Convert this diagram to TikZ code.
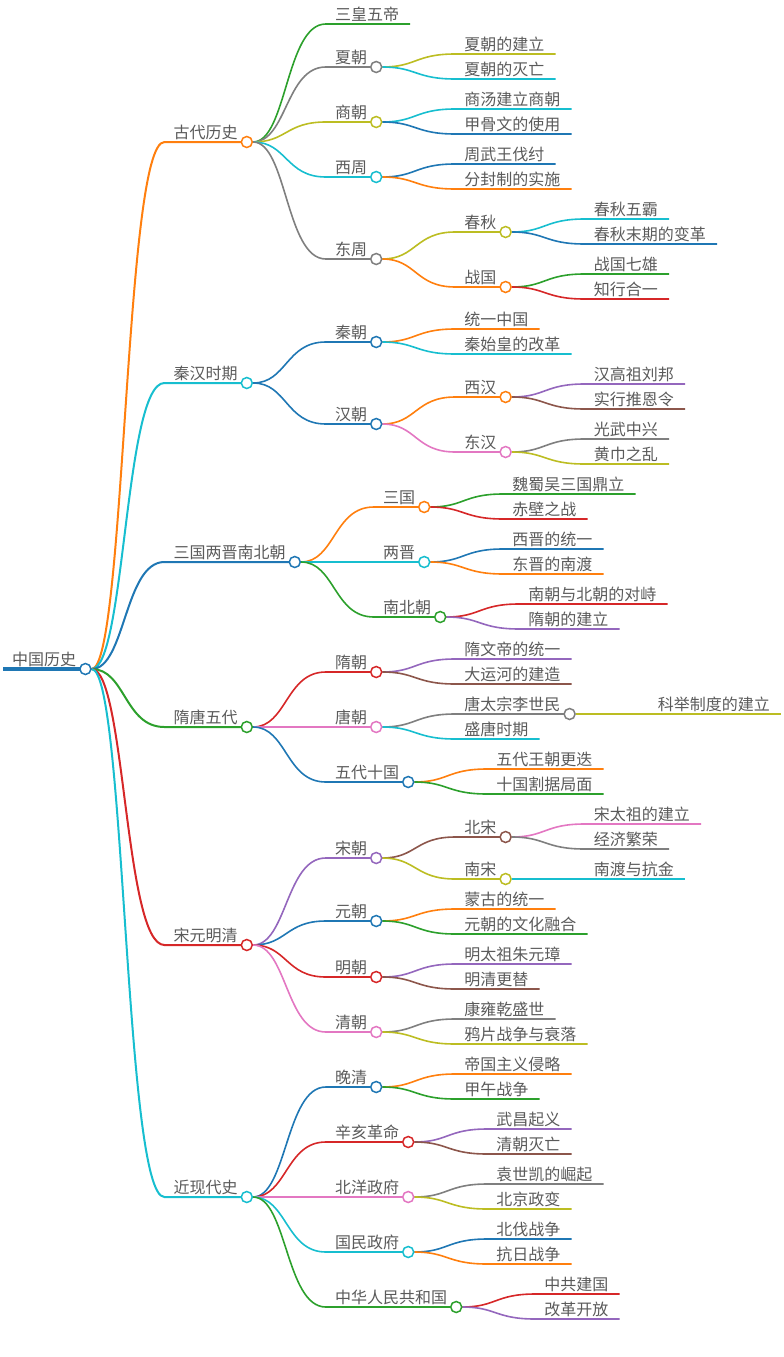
\documentclass[tikz,border=0pt]{standalone}
\usepackage{fontspec}
\setmainfont{Noto Sans CJK SC}
\usetikzlibrary{calc, backgrounds}
\definecolor{mblue}{HTML}{1F77B4}
\definecolor{morange}{HTML}{FF7F0E}
\definecolor{mgreen}{HTML}{2CA02C}
\definecolor{mred}{HTML}{D62728}
\definecolor{mpurple}{HTML}{9467BD}
\definecolor{mbrown}{HTML}{8C564B}
\definecolor{mpink}{HTML}{E377C2}
\definecolor{mgray}{HTML}{7F7F7F}
\definecolor{molive}{HTML}{BCBD22}
\definecolor{mcyan}{HTML}{17BECF}
\definecolor{txt}{HTML}{5A5A5A}
\tikzset{topic/.style={inner sep=0pt, text=txt, font=\fontsize{16}{18}\selectfont},
	knob/.style={circle, fill=white, line width=1.5pt, minimum size=11pt, inner sep=0pt}}
% width, name, parent, y, colour, text
\newcommand{\mmbranch}[6][1.6]{%
	\path (#3-c.center) ++(79,0) coordinate (#2-x);
	\coordinate (#2-s) at (#2-x |- 0,#4);
	\node[topic, anchor=base west] (#2) at ($(#2-s)+(9,-4)$) {#6};
	\begin{pgfonlayer}{background}
		\draw[#5, line width=#1] (#3-c) .. controls +(40,0) and +(-40,0) .. (#2-s) -- (#2.base east |- #2-s) -- ++(9,0);
	\end{pgfonlayer}
	\path (#2.base east |- #2-s) ++(9,0) node[knob, draw=#5] (#2-c) {};}
\newcommand{\mmleaf}[6][1.6]{%
	\path (#3-c.center) ++(79,0) coordinate (#2-x);
	\coordinate (#2-s) at (#2-x |- 0,#4);
	\node[topic, anchor=base west] (#2) at ($(#2-s)+(9,-4)$) {#6};
	\begin{pgfonlayer}{background}
		\draw[#5, line width=#1] (#3-c) .. controls +(40,0) and +(-40,0) .. (#2-s) -- (#2.base east |- #2-s) -- ++(11,0);
	\end{pgfonlayer}}

\begin{document}
\begin{tikzpicture}[x=1pt, y=-1pt]
	\useasboundingbox (0,0) rectangle (784,1357);
	
	\coordinate (zg-s) at (3,669);
	\node[topic, anchor=base west] (zg) at ($(zg-s)+(9,-4)$) {中国历史};
	\draw[mblue, line width=4] (zg-s) -- (zg.base east |- zg-s) -- ++(9,0);
	\path (zg.base east |- zg-s) ++(9,0) node[knob, draw=mblue] (zg-c) {};
	
	% 古代
	\mmbranch[2]{gd}{zg}{142}{morange}{古代历史}
	\mmleaf{gd1}{gd}{24}{mgreen}{三皇五帝}
	\mmbranch{gd2}{gd}{67}{mgray}{夏朝}
	\mmleaf{gd2a}{gd2}{54}{molive}{夏朝的建立}
	\mmleaf{gd2b}{gd2}{79}{mcyan}{夏朝的灭亡}
	\mmbranch{gd3}{gd}{122}{molive}{商朝}
	\mmleaf{gd3a}{gd3}{109}{mcyan}{商汤建立商朝}
	\mmleaf{gd3b}{gd3}{134}{mblue}{甲骨文的使用}
	\mmbranch{gd4}{gd}{177}{mcyan}{西周}
	\mmleaf{gd4a}{gd4}{164}{mblue}{周武王伐纣}
	\mmleaf{gd4b}{gd4}{189}{morange}{分封制的实施}
	\mmbranch{gd5}{gd}{259}{mgray}{东周}
	\mmbranch{gd5a}{gd5}{232}{molive}{春秋}
	\mmleaf{gd5a1}{gd5a}{219}{mcyan}{春秋五霸}
	\mmleaf{gd5a2}{gd5a}{244}{mblue}{春秋末期的变革}
	\mmbranch{gd5b}{gd5}{287}{morange}{战国}
	\mmleaf{gd5b1}{gd5b}{274}{mgreen}{战国七雄}
	\mmleaf{gd5b2}{gd5b}{299}{mred}{知行合一}
	
	% 秦汉
	\mmbranch[2]{qh}{zg}{383}{mcyan}{秦汉时期}
	\mmbranch{qh1}{qh}{342}{mblue}{秦朝}
	\mmleaf{qh1a}{qh1}{329}{morange}{统一中国}
	\mmleaf{qh1b}{qh1}{354}{mcyan}{秦始皇的改革}
	\mmbranch{qh2}{qh}{424}{mblue}{汉朝}
	\mmbranch{qh2a}{qh2}{397}{morange}{西汉}
	\mmleaf{qh2a1}{qh2a}{384}{mpurple}{汉高祖刘邦}
	\mmleaf{qh2a2}{qh2a}{409}{mbrown}{实行推恩令}
	\mmbranch{qh2b}{qh2}{452}{mpink}{东汉}
	\mmleaf{qh2b1}{qh2b}{439}{mgray}{光武中兴}
	\mmleaf{qh2b2}{qh2b}{464}{molive}{黄巾之乱}
	
	% 三国两晋南北朝
	\mmbranch[2]{sg}{zg}{562}{mblue}{三国两晋南北朝}
	\mmbranch{sg1}{sg}{507}{morange}{三国}
	\mmleaf{sg1a}{sg1}{494}{mgreen}{魏蜀吴三国鼎立}
	\mmleaf{sg1b}{sg1}{519}{mred}{赤壁之战}
	\mmbranch{sg2}{sg}{562}{mcyan}{两晋}
	\mmleaf{sg2a}{sg2}{549}{mblue}{西晋的统一}
	\mmleaf{sg2b}{sg2}{574}{morange}{东晋的南渡}
	\mmbranch{sg3}{sg}{617}{mgreen}{南北朝}
	\mmleaf{sg3a}{sg3}{604}{mred}{南朝与北朝的对峙}
	\mmleaf{sg3b}{sg3}{629}{mpurple}{隋朝的建立}
	
	% 隋唐五代
	\mmbranch[2]{st}{zg}{727}{mgreen}{隋唐五代}
	\mmbranch{st1}{st}{672}{mred}{隋朝}
	\mmleaf{st1a}{st1}{659}{mpurple}{隋文帝的统一}
	\mmleaf{st1b}{st1}{684}{mbrown}{大运河的建造}
	\mmbranch{st2}{st}{727}{mpink}{唐朝}
	\mmbranch{st2a}{st2}{714}{mgray}{唐太宗李世民}
	\mmleaf{st2a1}{st2a}{714}{molive}{科举制度的建立}
	\mmleaf{st2b}{st2}{739}{mcyan}{盛唐时期}
	\mmbranch{st3}{st}{782}{mblue}{五代十国}
	\mmleaf{st3a}{st3}{769}{morange}{五代王朝更迭}
	\mmleaf{st3b}{st3}{794}{mgreen}{十国割据局面}
	
	% 宋元明清
	\mmbranch[2]{sy}{zg}{945}{mred}{宋元明清}
	\mmbranch{sy1}{sy}{858}{mpurple}{宋朝}
	\mmbranch{sy1a}{sy1}{837}{mbrown}{北宋}
	\mmleaf{sy1a1}{sy1a}{824}{mpink}{宋太祖的建立}
	\mmleaf{sy1a2}{sy1a}{849}{mgray}{经济繁荣}
	\mmbranch{sy1b}{sy1}{879}{molive}{南宋}
	\mmleaf{sy1b1}{sy1b}{879}{mcyan}{南渡与抗金}
	\mmbranch{sy2}{sy}{921}{mblue}{元朝}
	\mmleaf{sy2a}{sy2}{909}{morange}{蒙古的统一}
	\mmleaf{sy2b}{sy2}{934}{mgreen}{元朝的文化融合}
	\mmbranch{sy3}{sy}{977}{mred}{明朝}
	\mmleaf{sy3a}{sy3}{964}{mpurple}{明太祖朱元璋}
	\mmleaf{sy3b}{sy3}{989}{mbrown}{明清更替}
	\mmbranch{sy4}{sy}{1032}{mpink}{清朝}
	\mmleaf{sy4a}{sy4}{1019}{mgray}{康雍乾盛世}
	\mmleaf{sy4b}{sy4}{1044}{molive}{鸦片战争与衰落}
	
	% 近现代
	\mmbranch[2]{jx}{zg}{1197}{mcyan}{近现代史}
	\mmbranch{jx1}{jx}{1087}{mblue}{晚清}
	\mmleaf{jx1a}{jx1}{1074}{morange}{帝国主义侵略}
	\mmleaf{jx1b}{jx1}{1099}{mgreen}{甲午战争}
	\mmbranch{jx2}{jx}{1142}{mred}{辛亥革命}
	\mmleaf{jx2a}{jx2}{1129}{mpurple}{武昌起义}
	\mmleaf{jx2b}{jx2}{1154}{mbrown}{清朝灭亡}
	\mmbranch{jx3}{jx}{1197}{mpink}{北洋政府}
	\mmleaf{jx3a}{jx3}{1184}{mgray}{袁世凯的崛起}
	\mmleaf{jx3b}{jx3}{1209}{molive}{北京政变}
	\mmbranch{jx4}{jx}{1252}{mcyan}{国民政府}
	\mmleaf{jx4a}{jx4}{1239}{mblue}{北伐战争}
	\mmleaf{jx4b}{jx4}{1264}{morange}{抗日战争}
	\mmbranch{jx5}{jx}{1307}{mgreen}{中华人民共和国}
	\mmleaf{jx5a}{jx5}{1294}{mred}{中共建国}
	\mmleaf{jx5b}{jx5}{1319}{mpurple}{改革开放}
\end{tikzpicture}
\end{document}
